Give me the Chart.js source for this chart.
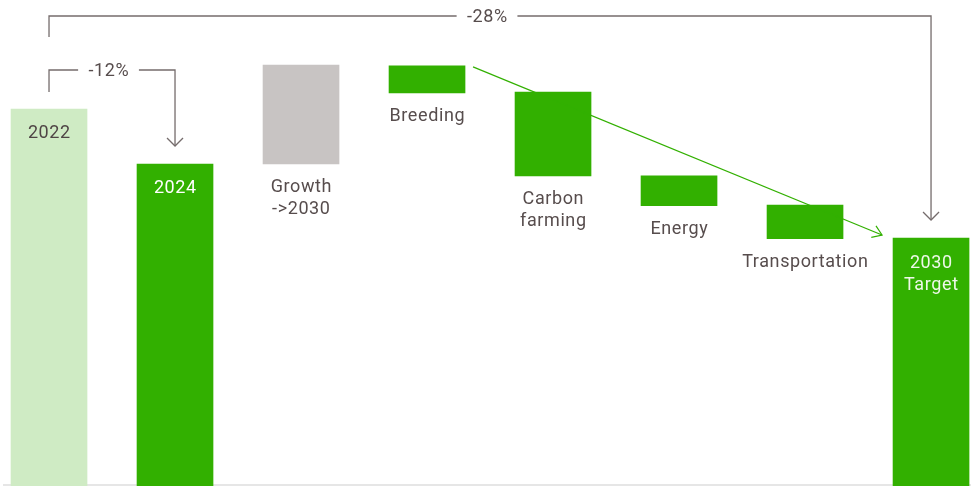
<!DOCTYPE html>
<html>
<head>
<meta charset="utf-8">
<script src="https://cdn.jsdelivr.net/npm/chart.js@4.4.1/dist/chart.umd.min.js"></script>
<style>
  html, body { margin: 0; padding: 0; background: #ffffff; }
  #wrap { width: 974px; height: 486px; position: relative; }
</style>
</head>
<body>
<div id="wrap"><canvas id="c"></canvas></div>
<script>
// ---- data ----
const categories = ['2022', '2024', 'Growth ->2030', 'Breeding', 'Carbon farming', 'Energy', 'Transportation', '2030 Target'];
const labelLines = [['2022'], ['2024'], ['Growth', '->2030'], ['Breeding'], ['Carbon', 'farming'], ['Energy'], ['Transportation'], ['2030', 'Target']];
const barLow  = [0,   0,    88.0,  103.5, 85.4,  78.9, 71.7, 0];
const barHigh = [100, 88.0, 109.6, 109.4, 103.7, 85.4, 79.05, 71.85];
const changeLabels = ['-12%', '-28%'];

const barColors = ['#cfebc4', '#32b000', '#c8c4c3', '#32b000', '#32b000', '#32b000', '#32b000', '#32b000'];
const insideLabel = [true, true, false, false, false, false, false, true];
const insideColor = ['#4f4545', '#ffffff', null, null, null, null, null, '#eef8e8'];

const TEXT = '#574d4d';
const LINE = '#756c6c';
const GREEN = '#32b000';
const FONT = '18px Roboto, "DejaVu Sans", sans-serif';
const SPACING = 0.6;

function drawText(ctx, s, x, y, color) {
  ctx.save();
  ctx.font = FONT;
  ctx.fillStyle = color;
  try { ctx.letterSpacing = SPACING + 'px'; } catch (e) {}
  ctx.textAlign = 'left';
  ctx.textBaseline = 'middle';
  const w = ctx.measureText(s).width - SPACING;
  ctx.fillText(s, x - w / 2, y);
  ctx.restore();
}

function chevronDown(ctx, x, y, s) {
  ctx.beginPath();
  ctx.moveTo(x - s, y - s);
  ctx.lineTo(x, y);
  ctx.lineTo(x + s, y - s);
  ctx.stroke();
}

const overlay = {
  id: 'overlay',
  beforeDatasetsDraw(chart) {
    const ctx = chart.ctx;
    ctx.save();
    ctx.strokeStyle = '#dedede';
    ctx.lineWidth = 1.5;
    ctx.beginPath();
    ctx.moveTo(3, 485);
    ctx.lineTo(971, 485);
    ctx.stroke();
    ctx.restore();
  },
  afterDatasetsDraw(chart) {
    const ctx = chart.ctx;
    const xs = chart.scales.x, ys = chart.scales.y;
    const X = i => xs.getPixelForValue(i);
    const Y = v => ys.getPixelForValue(v);

    // category labels
    categories.forEach((c, i) => {
      const lines = labelLines[i];
      const cx = X(i);
      if (insideLabel[i]) {
        const top = Y(barHigh[i]);
        lines.forEach((l, k) => drawText(ctx, l, cx, top + 25 + k * 22, insideColor[i]));
      } else {
        const bottom = Y(barLow[i]);
        lines.forEach((l, k) => drawText(ctx, l, cx, bottom + 23.5 + k * 22, TEXT));
      }
    });

    // brackets
    ctx.save();
    ctx.strokeStyle = LINE;
    ctx.lineWidth = 1.3;
    function bracket(i0, i1, topY, startY, endY, label, mid) {
      const x0 = X(i0), x1 = X(i1);
      ctx.font = FONT;
      try { ctx.letterSpacing = SPACING + 'px'; } catch (e) {}
      const tw = ctx.measureText(label).width;
      const gap = tw / 2 + 10;
      ctx.beginPath();
      ctx.moveTo(x0, startY);
      ctx.lineTo(x0, topY);
      ctx.lineTo(mid - gap, topY);
      ctx.moveTo(mid + gap, topY);
      ctx.lineTo(x1, topY);
      ctx.lineTo(x1, endY);
      ctx.stroke();
      chevronDown(ctx, x1, endY, 8);
      drawText(ctx, label, mid, topY + 1.5, TEXT);
    }
    bracket(0, 1, 70, Y(barHigh[0]) - 17, Y(barHigh[1]) - 18, changeLabels[0], X(0) + 59.5);
    bracket(0, 7, 16, 37, Y(barHigh[7]) - 18, changeLabels[1], (X(0) + X(7)) / 2 - 3);
    ctx.restore();

    // green trend arrow from Breeding to 2030 target
    ctx.save();
    ctx.strokeStyle = GREEN;
    ctx.lineWidth = 1.2;
    const sx = X(3) + 46, sy = Y(barHigh[3]) + 1;
    const ex = X(7) - 49, ey = Y(barHigh[7]) - 3;
    ctx.beginPath();
    ctx.moveTo(sx, sy);
    ctx.lineTo(ex, ey);
    ctx.stroke();
    const ang = Math.atan2(ey - sy, ex - sx);
    const L = 11, A = 0.6;
    ctx.beginPath();
    ctx.moveTo(ex - L * Math.cos(ang - A), ey - L * Math.sin(ang - A));
    ctx.lineTo(ex, ey);
    ctx.lineTo(ex - L * Math.cos(ang + A), ey - L * Math.sin(ang + A));
    ctx.stroke();
    ctx.restore();
  }
};

new Chart(document.getElementById('c'), {
  type: 'bar',
  data: {
    datasets: [{
      data: categories.map((c, i) => ({ x: i, y: [barLow[i], barHigh[i]] })),
      backgroundColor: barColors,
      borderWidth: 0,
      barThickness: 76
    }]
  },
  options: {
    responsive: true,
    maintainAspectRatio: false,
    animation: false,
    devicePixelRatio: 1,
    layout: { padding: 0 },
    plugins: { legend: { display: false }, tooltip: { enabled: false } },
    scales: {
      x: { type: 'linear', min: -0.389, max: 7.341, display: false, offset: false },
      y: { min: 17.74, max: 123.78, display: false }
    }
  },
  plugins: [overlay]
});
</script>
</body>
</html>
